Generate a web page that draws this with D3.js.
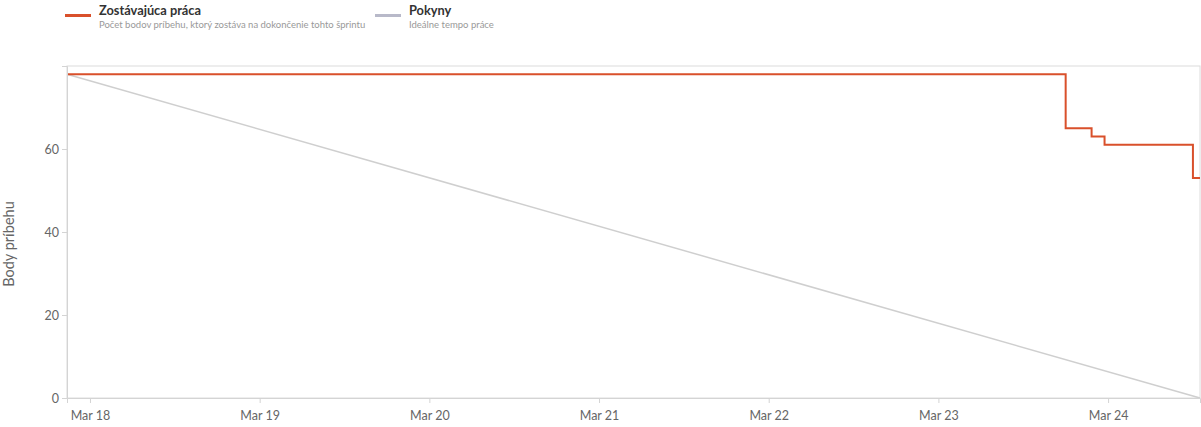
<!DOCTYPE html>
<html>
<head>
<meta charset="utf-8">
<script src="https://cdn.jsdelivr.net/npm/d3@7"></script>
<style>
  body { margin: 0; background: #fff; font-family: "Segoe UI", Lato, "Noto Sans", sans-serif; }
  .axis text { fill: #666; font-size: 12.5px; font-family: "Segoe UI", Lato, "Noto Sans", sans-serif; }
  .axis path, .axis line { stroke: #d4d4d4; }
</style>
</head>
<body>
<div id="chart"></div>
<script>
// Remaining work (step series)
var remainingTimes = ['2024-03-17T20:45', '2024-03-23T18:00', '2024-03-23T21:40', '2024-03-23T23:30', '2024-03-24T12:00', '2024-03-24T13:00']
var remainingValues = [78, 65, 63, 61, 53, 53]

// Ideal trend
var guideTimes = ['2024-03-17T20:45', '2024-03-24T13:00']
var guideValues = [78, 0]

var yTicks = [0, 20, 40, 60]
var legendTitles = ['Zostávajúca práca', 'Pokyny']
var legendNotes = ['Počet bodov príbehu, ktorý zostáva na dokončenie tohto šprintu', 'Ideálne tempo práce']
var yLabel = 'Body príbehu'

var parseTime = d3.timeParse('%Y-%m-%dT%H:%M')
var remaining = remainingTimes.map((t, i) => ({ date: parseTime(t), value: remainingValues[i] }))
var guide = guideTimes.map((t, i) => ({ date: parseTime(t), value: guideValues[i] }))

var svgWidth = 1201
var svgHeight = 427
var margin = { top: 66, left: 67, right: 1, bottom: 29 }
var width = svgWidth - margin.left - margin.right
var height = svgHeight - margin.top - margin.bottom

var svg = d3.select('#chart')
  .append('svg')
  .attr('width', svgWidth)
  .attr('height', svgHeight)

var xPositionScale = d3.scaleTime()
  .domain([guide[0].date, guide[1].date])
  .range([0, width])
var yPositionScale = d3.scaleLinear()
  .domain([0, 80])
  .range([height, 0])

// Legend
var legendX = [65, 375]
var legendColors = ['#d9502b', '#b8b9c9']
legendTitles.forEach(function(title, i) {
  var g = svg.append('g').attr('transform', `translate(${legendX[i]},0)`)
  g.append('rect')
    .attr('x', 0).attr('y', 14)
    .attr('width', 26).attr('height', 3)
    .attr('fill', legendColors[i])
  g.append('text')
    .attr('x', 34).attr('y', 15)
    .style('font-size', '12.8px')
    .style('font-weight', 700)
    .attr('fill', '#333')
    .text(title)
  g.append('text')
    .attr('x', 34).attr('y', 28)
    .style('font-size', '9.5px')
    .attr('fill', '#999')
    .text(legendNotes[i])
})

var chart = svg.append('g')
  .attr('transform', `translate(${margin.left},${margin.top})`)

// frame
chart.append('rect')
  .attr('width', width)
  .attr('height', height)
  .attr('fill', 'none')
  .attr('stroke', '#dcdcdc')

var line = d3.line()
  .x(d => xPositionScale(d.date))
  .y(d => yPositionScale(d.value))

chart.append('path')
  .datum(guide)
  .attr('d', line)
  .attr('fill', 'none')
  .attr('stroke', '#cfcfcf')
  .attr('stroke-width', 1.5)

chart.append('path')
  .datum(remaining)
  .attr('d', line.curve(d3.curveStepAfter))
  .attr('fill', 'none')
  .attr('stroke', '#d9502b')
  .attr('stroke-width', 2)

// Axes
var xAxis = d3.axisBottom(xPositionScale)
  .ticks(d3.timeDay.every(1))
  .tickFormat(d3.timeFormat('%b %-d'))
  .tickSizeOuter(0)
  .tickSize(5)
chart.append('g')
  .attr('class', 'axis x-axis')
  .attr('transform', `translate(0,${height})`)
  .call(xAxis)
  .call(g => g.selectAll('text').attr('dy', '1.1em'))

var yAxis = d3.axisLeft(yPositionScale)
  .tickValues(yTicks)
  .tickSizeOuter(0)
  .tickSize(5)
chart.append('g')
  .attr('class', 'axis y-axis')
  .call(yAxis)
  .call(g => g.selectAll('text').attr('x', -8))

svg.append('text')
  .attr('transform', `translate(14,244) rotate(-90)`)
  .attr('text-anchor', 'middle')
  .style('font-size', '14.5px')
  .attr('fill', '#666')
  .text(yLabel)
</script>
</body>
</html>
